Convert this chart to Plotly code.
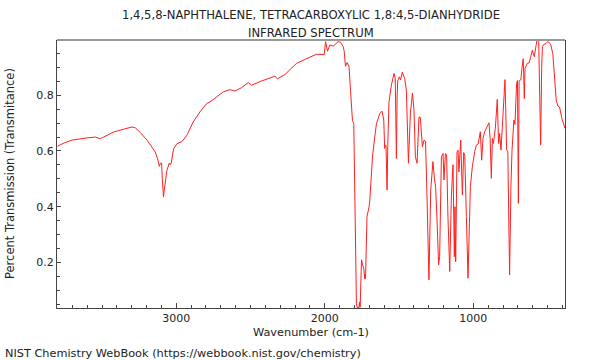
import plotly.graph_objects as go

# Spectrum (descending wavenumber)
wavenumber = [
    3800, 3750, 3702, 3650, 3601, 3545, 3525, 3511, 3490, 3421, 3350, 3298, 3276, 3240,
    3197, 3141, 3126, 3119, 3114, 3108, 3099, 3094, 3090, 3086, 3081, 3063, 3047, 3040,
    3034, 3018, 2996, 2962, 2930, 2906, 2886, 2841, 2796, 2762, 2729, 2684, 2639, 2605,
    2561, 2516, 2493, 2426, 2336, 2318, 2269, 2191, 2135, 2056, 2004, 1995, 1982, 1966,
    1944, 1910, 1895, 1888, 1877, 1870, 1861, 1850, 1837, 1827, 1814, 1805, 1798, 1792,
    1787, 1780, 1776, 1771, 1766, 1762, 1753, 1745, 1738, 1731, 1726, 1716, 1709, 1702,
    1697, 1679, 1664, 1652, 1630, 1615, 1603, 1597, 1593, 1588, 1581, 1576, 1568, 1552,
    1534, 1526, 1518, 1513, 1509, 1498, 1490, 1478, 1462, 1451, 1437, 1424, 1410, 1400,
    1390, 1379, 1366, 1357, 1343, 1332, 1322, 1312, 1299, 1287, 1272, 1262, 1254, 1245,
    1234, 1227, 1215, 1204, 1198, 1188, 1180, 1171, 1159, 1148, 1137, 1128, 1124, 1119,
    1110, 1103, 1097, 1085, 1074, 1065, 1058, 1047, 1036, 1020, 1007, 991, 980, 968,
    953, 944, 935, 924, 910, 895, 887, 879, 872, 865, 852, 839, 830, 823,
    814, 805, 796, 787, 782, 776, 768, 756, 747, 740, 727, 720, 709, 703,
    697, 692, 685, 680, 673, 664, 657, 652, 637, 625, 615, 603, 590, 580,
    572, 560, 547, 540, 535, 527, 512, 498, 480, 465, 455, 442, 431, 420,
    404, 383,
]
transmittance = [
    0.617, 0.630, 0.639, 0.644, 0.647, 0.650, 0.648, 0.644, 0.650, 0.668, 0.679, 0.686, 0.683, 0.665,
    0.639, 0.596, 0.572, 0.548, 0.545, 0.555, 0.557, 0.500, 0.435, 0.435, 0.459, 0.531, 0.557, 0.551,
    0.557, 0.608, 0.626, 0.634, 0.655, 0.680, 0.704, 0.740, 0.770, 0.780, 0.794, 0.812, 0.820, 0.815,
    0.827, 0.845, 0.836, 0.851, 0.868, 0.859, 0.874, 0.914, 0.928, 0.947, 0.946, 0.992, 0.958, 0.980,
    0.976, 0.992, 0.990, 0.985, 0.975, 0.960, 0.904, 0.917, 0.902, 0.818, 0.710, 0.698, 0.350, 0.078,
    0.052, 0.035, 0.040, 0.035, 0.058, 0.040, 0.210, 0.190, 0.180, 0.141, 0.142, 0.365, 0.380, 0.400,
    0.424, 0.579, 0.650, 0.699, 0.734, 0.743, 0.711, 0.609, 0.620, 0.620, 0.460, 0.620, 0.776, 0.836,
    0.878, 0.860, 0.573, 0.800, 0.852, 0.866, 0.855, 0.883, 0.859, 0.818, 0.556, 0.734, 0.808, 0.750,
    0.579, 0.556, 0.722, 0.720, 0.615, 0.639, 0.635, 0.436, 0.138, 0.460, 0.562, 0.500, 0.472, 0.360,
    0.192, 0.221, 0.579, 0.591, 0.496, 0.591, 0.585, 0.365, 0.168, 0.436, 0.551, 0.221, 0.400, 0.203,
    0.597, 0.603, 0.525, 0.639, 0.442, 0.594, 0.585, 0.365, 0.144, 0.472, 0.543, 0.597, 0.621, 0.625,
    0.669, 0.567, 0.645, 0.669, 0.685, 0.701, 0.645, 0.502, 0.645, 0.627, 0.681, 0.785, 0.627, 0.663,
    0.603, 0.685, 0.764, 0.856, 0.750, 0.603, 0.600, 0.156, 0.472, 0.600, 0.711, 0.695, 0.842, 0.853,
    0.412, 0.850, 0.855, 0.855, 0.896, 0.931, 0.788, 0.896, 0.914, 0.916, 0.935, 0.961, 0.938, 0.980,
    0.997, 0.993, 0.621, 0.900, 0.975, 0.982, 0.985, 0.993, 0.983, 0.949, 0.880, 0.782, 0.761, 0.758,
    0.717, 0.681,
]

title_lines = ["1,4,5,8-NAPHTHALENE, TETRACARBOXYLIC 1,8:4,5-DIANHYDRIDE", "INFRARED SPECTRUM"]
x_title = "Wavenumber (cm-1)"
y_title = "Percent Transmission (Transmitance)"
footer = "NIST Chemistry WebBook (https://webbook.nist.gov/chemistry)"

FONT = "DejaVu Sans"
AX = "#444444"

fig = go.Figure()
fig.add_trace(go.Scatter(x=wavenumber, y=transmittance, mode="lines",
                         line=dict(color="#ff2020", width=1), hoverinfo="skip",
                         showlegend=False))

fig.update_layout(
    width=600, height=360,
    margin=dict(l=57, r=35, t=40, b=52),
    paper_bgcolor="white", plot_bgcolor="white",
    font=dict(family=FONT, size=11, color="#222222"),
    xaxis=dict(range=[3803, 383], autorange=False, showgrid=False, zeroline=False,
               showline=True, linecolor=AX, linewidth=1, mirror=False,
               ticks="inside", ticklen=5, tickcolor=AX, tick0=0, dtick=1000,
               tickfont=dict(size=11),
               minor=dict(ticks="inside", ticklen=3, tickcolor=AX, dtick=100, tick0=0)),
    yaxis=dict(range=[0.037, 0.998], autorange=False, showgrid=False, zeroline=False,
               showline=True, linecolor=AX, linewidth=1, mirror=True,
               ticks="inside", ticklen=4, tickcolor=AX, tick0=0, dtick=0.2,
               tickfont=dict(size=11),
               minor=dict(ticks="inside", ticklen=3, tickcolor=AX, dtick=0.05, tick0=0)),
    shapes=[dict(type="line", xref="paper", yref="paper", x0=0, x1=1, y0=1, y1=1,
                 line=dict(color="#999999", width=2))],
)

ph = 360 - 40 - 52
pw = 600 - 57 - 35

def py(p):
    return (308 - p) / ph

def px(p):
    return (p - 57) / pw

fig.add_annotation(text=title_lines[0], xref="paper", yref="paper", x=0.5, y=py(15),
                   xanchor="center", yanchor="middle", showarrow=False, font=dict(size=11.6))
fig.add_annotation(text=title_lines[1], xref="paper", yref="paper", x=0.5, y=py(33),
                   xanchor="center", yanchor="middle", showarrow=False, font=dict(size=11.6))
fig.add_annotation(text=x_title, xref="paper", yref="paper", x=0.5, y=py(332.5),
                   xanchor="center", yanchor="middle", showarrow=False, font=dict(size=11.3))
fig.add_annotation(text=y_title, xref="paper", yref="paper", x=px(10), y=py(174),
                   xanchor="center", yanchor="middle", textangle=-90, showarrow=False,
                   font=dict(size=11.5))
fig.add_annotation(text=footer, xref="paper", yref="paper", x=px(3), y=py(353),
                   xanchor="left", yanchor="middle", showarrow=False, font=dict(size=11.3))

fig.write_html("out.html", config={"displayModeBar": False},
               post_script="document.body.style.margin='0';")
